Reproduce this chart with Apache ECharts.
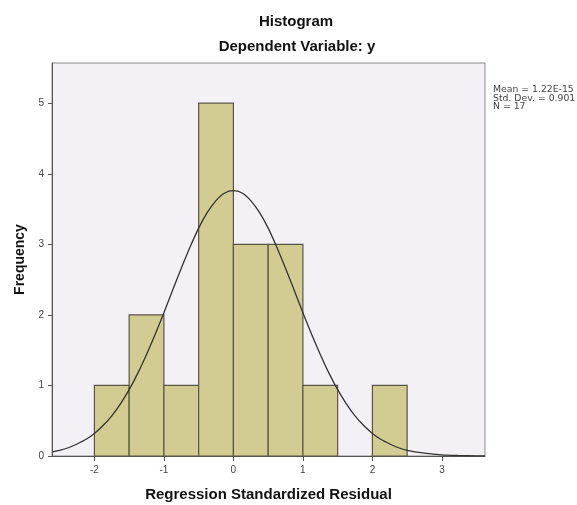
<!DOCTYPE html>
<html>
<head>
<meta charset="utf-8">
<script src="https://cdn.jsdelivr.net/npm/echarts@6/dist/echarts.min.js"></script>
<style>html,body{margin:0;padding:0;background:#fff}#c{width:577px;height:505px}</style>
</head>
<body>
<div id="c"></div>
<script>
// Histogram bins (lower edge, upper edge) and frequencies
var binStarts = [-2, -1.5, -1, -0.5, 0, 0.5, 1, 1.5, 2];
var binEnds   = [-1.5, -1, -0.5, 0, 0.5, 1, 1.5, 2, 2.5];
var freqs     = [1, 2, 1, 5, 3, 3, 1, 0, 1];
// Normal curve (x, frequency)
var curveX = [-2.6, -2.5, -2.375, -2.25, -2.125, -2, -1.875, -1.75, -1.625, -1.5, -1.375, -1.25, -1.125, -1, -0.875, -0.75, -0.625, -0.5, -0.375, -0.25, -0.125, 0,
              0.125, 0.25, 0.375, 0.5, 0.625, 0.75, 0.875, 1, 1.125, 1.25, 1.375, 1.5, 1.625, 1.75, 1.875, 2, 2.125, 2.25, 2.375, 2.5, 2.75, 3, 3.25, 3.5, 3.62];
var curveY = [0.06, 0.08, 0.117, 0.17, 0.233, 0.32, 0.432, 0.57, 0.74, 0.94, 1.175, 1.44, 1.726, 2.03, 2.349, 2.66, 2.959, 3.23, 3.452, 3.62, 3.728, 3.76,
              3.728, 3.62, 3.452, 3.23, 2.959, 2.66, 2.349, 2.03, 1.726, 1.44, 1.175, 0.94, 0.74, 0.57, 0.432, 0.32, 0.233, 0.17, 0.117, 0.08, 0.04, 0.015, 0.006, 0.002, 0.001];
var xTicks = [-2, -1, 0, 1, 2, 3];
var yTicks = [0, 1, 2, 3, 4, 5];
var statsLines = ['Mean = 1.22E-15', 'Std. Dev. = 0.901', 'N = 17'];

var chart = echarts.init(document.getElementById('c'), null, {renderer: 'canvas'});
var barData = binStarts.map(function (s, i) { return [s, binEnds[i], freqs[i]]; });
var lineData = curveX.map(function (x, i) { return [x, curveY[i]]; });
var font = '"Liberation Sans", Arial, sans-serif';

chart.setOption({
  animation: false,
  backgroundColor: '#ffffff',
  title: [
    {text: 'Histogram', left: 291, top: 9, textAlign: 'center',
     textStyle: {fontFamily: font, fontSize: 15, fontWeight: 'bold', color: '#111'}},
    {text: 'Dependent Variable: y', left: 292, top: 34, textAlign: 'center',
     textStyle: {fontFamily: font, fontSize: 15, fontWeight: 'bold', color: '#111'}}
  ],
  grid: {left: 52, right: 92, top: 63, bottom: 49, show: true, containLabel: false,
         outerBoundsMode: 'none',
         backgroundColor: '#F4F1F6', borderColor: '#8a8a8a', borderWidth: 1},
  xAxis: {
    type: 'value', min: -2.61, max: 3.62,
    name: 'Regression Standardized Residual', nameLocation: 'middle', nameGap: 31,
    nameTextStyle: {fontFamily: font, fontSize: 15, fontWeight: 'bold', color: '#111'},
    axisLine: {show: true, onZero: false, lineStyle: {color: '#555', width: 1}},
    axisTick: {show: true, length: 5, customValues: xTicks, lineStyle: {color: '#555'}},
    axisLabel: {customValues: xTicks, margin: 9, fontFamily: font, fontSize: 10, color: '#444'},
    splitLine: {show: false}
  },
  yAxis: {
    type: 'value', min: 0, max: 5.57,
    name: 'Frequency', nameLocation: 'middle', nameGap: 24, nameRotate: 90,
    nameTextStyle: {fontFamily: font, fontSize: 14, fontWeight: 'bold', color: '#111'},
    axisLine: {show: true, onZero: false, lineStyle: {color: '#555', width: 1}},
    axisTick: {show: true, length: 4, customValues: yTicks, lineStyle: {color: '#555'}},
    axisLabel: {customValues: yTicks, margin: 8, fontFamily: font, fontSize: 10, color: '#444'},
    splitLine: {show: false}
  },
  graphic: [{
    type: 'text', left: 493, top: 85,
    style: {text: statsLines.join('\n'), fontFamily: '"DejaVu Sans", sans-serif', fontSize: 9.3,
            lineHeight: 8.6, fill: '#444'}
  }],
  series: [
    {
      type: 'custom',
      data: barData,
      encode: {x: [0, 1], y: 2},
      renderItem: function (params, api) {
        var p0 = api.coord([api.value(0), api.value(2)]);
        var p1 = api.coord([api.value(1), 0]);
        if (api.value(2) <= 0) return null;
        return {
          type: 'rect',
          shape: {x: p0[0], y: p0[1], width: p1[0] - p0[0], height: p1[1] - p0[1]},
          style: {fill: '#D3CC92', stroke: '#5a5646', lineWidth: 1.2}
        };
      },
      z: 2
    },
    {
      type: 'line', data: lineData, smooth: 0.3, showSymbol: false,
      lineStyle: {color: '#333', width: 1.3}, z: 3
    }
  ]
});
</script>
</body>
</html>
